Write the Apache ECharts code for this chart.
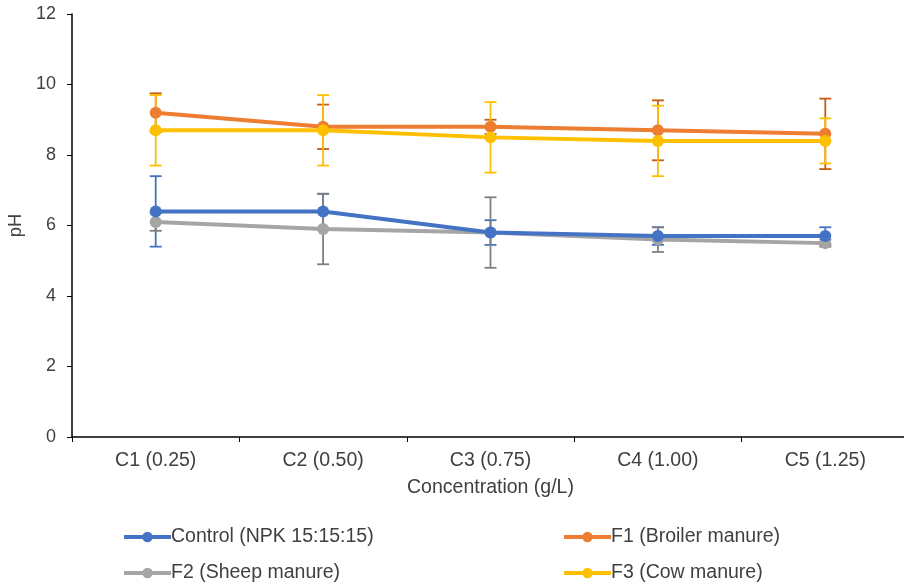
<!DOCTYPE html>
<html>
<head>
<meta charset="utf-8">
<script src="https://cdn.jsdelivr.net/npm/echarts@6/dist/echarts.min.js"></script>
<style>html,body{margin:0;padding:0;background:#fff}#c{width:904px;height:583px}</style>
</head>
<body>
<div id="c"></div>
<script>
var categories = ['C1 (0.25)', 'C2 (0.50)', 'C3 (0.75)', 'C4 (1.00)', 'C5 (1.25)'];
var seriesNames = ['Control (NPK 15:15:15)', 'F1 (Broiler manure)', 'F2 (Sheep manure)', 'F3 (Cow manure)'];
var controlValues = [6.4, 6.4, 5.8, 5.7, 5.7];
var f1Values = [9.2, 8.8, 8.8, 8.7, 8.6];
var f2Values = [6.1, 5.9, 5.8, 5.6, 5.5];
var f3Values = [8.7, 8.7, 8.5, 8.4, 8.4];
var controlErrors = [1.0, 0.5, 0.35, 0.25, 0.25];
var f1Errors = [0.55, 0.63, 0.2, 0.85, 1.0];
var f2Errors = [0.25, 1.0, 1.0, 0.35, 0.1];
var f3Errors = [1.0, 1.0, 1.0, 1.0, 0.64];
var yTicks = [0, 2, 4, 6, 8, 10, 12];

var lineColors = ['#4472C4', '#ED7D31', '#A5A5A5', '#FFC000'];
var errColors = ['#4472C4', '#C55A11', '#7F7F7F', '#FFC000'];
var allValues = [controlValues, f1Values, f2Values, f3Values];
var allErrors = [controlErrors, f1Errors, f2Errors, f3Errors];

var chart = echarts.init(document.getElementById('c'));
var textColor = '#404040';
var font = 'Liberation Sans, Arial, sans-serif';
var fs = 19.5;

var series = [];
allValues.forEach(function (vals, i) {
  var errs = allErrors[i];
  series.push({
    type: 'custom',
    name: seriesNames[i] + ' err',
    silent: true,
    z: 1,
    data: vals.map(function (v, j) { return [j, v - errs[j], v + errs[j]]; }),
    renderItem: function (params, api) {
      var lo = api.coord([api.value(0), api.value(1)]);
      var hi = api.coord([api.value(0), api.value(2)]);
      var hw = 6;
      var st = { stroke: errColors[i], lineWidth: 1.8 };
      return {
        type: 'group',
        children: [
          { type: 'line', shape: { x1: lo[0], y1: lo[1], x2: hi[0], y2: hi[1] }, style: st },
          { type: 'line', shape: { x1: lo[0] - hw, y1: lo[1], x2: lo[0] + hw, y2: lo[1] }, style: st },
          { type: 'line', shape: { x1: hi[0] - hw, y1: hi[1], x2: hi[0] + hw, y2: hi[1] }, style: st }
        ]
      };
    }
  });
});
allValues.forEach(function (vals, i) {
  series.push({
    type: 'line',
    name: seriesNames[i],
    data: vals,
    z: 3 + (i === 0 ? 1 : 0),
    symbol: 'circle',
    symbolSize: 12,
    lineStyle: { color: lineColors[i], width: 4 },
    itemStyle: { color: lineColors[i] },
    emphasis: { disabled: true },
    animation: false
  });
});

var legendPos = [[117, 522], [557, 522], [117, 558], [557, 558]];
var legends = seriesNames.map(function (n, i) {
  return {
    data: [n],
    left: legendPos[i][0],
    top: legendPos[i][1],
    itemWidth: 47,
    itemHeight: 13,
    itemGap: 0,
    lineStyle: { width: 4 },
    textStyle: { color: textColor, fontSize: fs, fontFamily: font, padding: [0, 0, 0, -5] },
    selectedMode: false
  };
});

chart.setOption({
  animation: false,
  backgroundColor: '#fff',
  grid: { left: 72, right: -5, top: 14, bottom: 146, containLabel: false, outerBoundsMode: 'none' },
  legend: legends,
  xAxis: {
    type: 'category',
    data: categories,
    boundaryGap: true,
    axisLine: { lineStyle: { color: '#000', width: 1.5 } },
    axisTick: { show: true, inside: false, length: 5, lineStyle: { color: '#000' } },
    axisLabel: { color: textColor, fontSize: fs, fontFamily: font, margin: 14 },
    name: 'Concentration (g/L)',
    nameLocation: 'middle',
    nameGap: 41,
    nameTextStyle: { color: textColor, fontSize: fs, fontFamily: font }
  },
  yAxis: {
    type: 'value',
    min: yTicks[0],
    max: yTicks[yTicks.length - 1],
    interval: 2,
    axisLine: { show: true, lineStyle: { color: '#000', width: 1.5 } },
    axisTick: { show: true, length: 5, lineStyle: { color: '#000' } },
    splitLine: { show: false },
    axisLabel: { color: textColor, fontSize: 18, fontFamily: font, margin: 16 },
    name: 'pH',
    nameLocation: 'middle',
    nameGap: 45,
    nameTextStyle: { color: textColor, fontSize: 18.5, fontFamily: font }
  },
  series: series
});
</script>
</body>
</html>
